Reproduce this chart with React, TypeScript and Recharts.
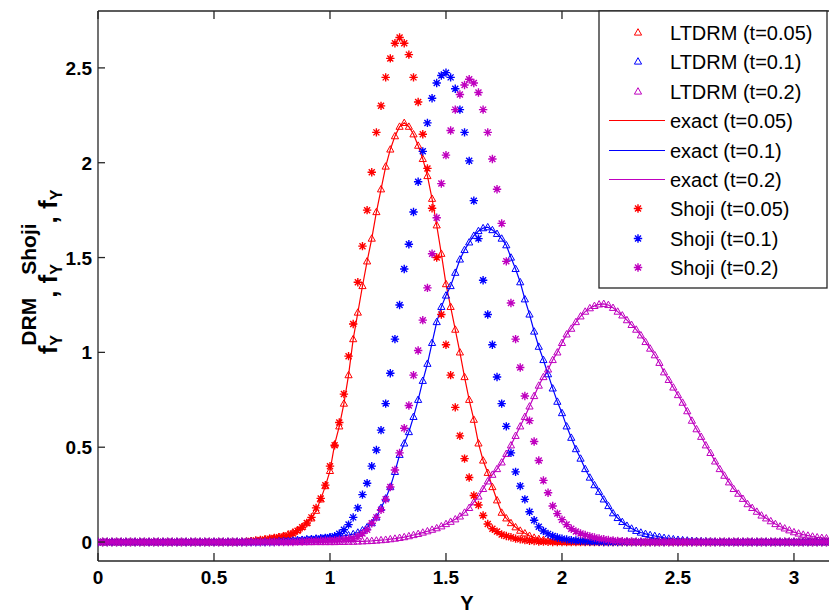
import React from "react";
import { ComposedChart, Line, Scatter, XAxis, YAxis, ReferenceLine } from "recharts";

const FONT = '"Liberation Sans", Arial, Helvetica, sans-serif';
const AXIS = "#262626";
const RED = "#ff0000";
const BLUE = "#0000ff";
const MAGENTA = "#bf00bf";
const XMAX = 3.151;
const YMIN = -0.1;
const YMAX = 2.8;

// Y values (step 0.02) shared by every series
const grid = [
  0, 0.02, 0.04, 0.06, 0.08, 0.1, 0.12, 0.14, 0.16, 0.18,
  0.2, 0.22, 0.24, 0.26, 0.28, 0.3, 0.32, 0.34, 0.36, 0.38,
  0.4, 0.42, 0.44, 0.46, 0.48, 0.5, 0.52, 0.54, 0.56, 0.58,
  0.6, 0.62, 0.64, 0.66, 0.68, 0.7, 0.72, 0.74, 0.76, 0.78,
  0.8, 0.82, 0.84, 0.86, 0.88, 0.9, 0.92, 0.94, 0.96, 0.98,
  1, 1.02, 1.04, 1.06, 1.08, 1.1, 1.12, 1.14, 1.16, 1.18,
  1.2, 1.22, 1.24, 1.26, 1.28, 1.3, 1.32, 1.34, 1.36, 1.38,
  1.4, 1.42, 1.44, 1.46, 1.48, 1.5, 1.52, 1.54, 1.56, 1.58,
  1.6, 1.62, 1.64, 1.66, 1.68, 1.7, 1.72, 1.74, 1.76, 1.78,
  1.8, 1.82, 1.84, 1.86, 1.88, 1.9, 1.92, 1.94, 1.96, 1.98,
  2, 2.02, 2.04, 2.06, 2.08, 2.1, 2.12, 2.14, 2.16, 2.18,
  2.2, 2.22, 2.24, 2.26, 2.28, 2.3, 2.32, 2.34, 2.36, 2.38,
  2.4, 2.42, 2.44, 2.46, 2.48, 2.5, 2.52, 2.54, 2.56, 2.58,
  2.6, 2.62, 2.64, 2.66, 2.68, 2.7, 2.72, 2.74, 2.76, 2.78,
  2.8, 2.82, 2.84, 2.86, 2.88, 2.9, 2.92, 2.94, 2.96, 2.98,
  3, 3.02, 3.04, 3.06, 3.08, 3.1, 3.12, 3.14, 3.16,
];

// exact density (LTDRM markers sit on it)
const exact005 = [
  0, 0, 0, 0, 0, 0, 0, 0, 0, 0,
  0, 0, 0, 0, 0, 0, 0, 0, 0, 0,
  0, 0, 0, 0, 0, 0, 0, 0, 0, 0,
  0, 0.002, 0.003, 0.005, 0.007, 0.01, 0.014, 0.018, 0.022, 0.027,
  0.033, 0.041, 0.051, 0.064, 0.08, 0.1, 0.125, 0.165, 0.225, 0.295,
  0.375, 0.515, 0.61, 0.73, 0.88, 1.07, 1.21, 1.35, 1.48, 1.6,
  1.74, 1.86, 1.98, 2.07, 2.14, 2.19, 2.21, 2.19, 2.15, 2.09,
  2.02, 1.93, 1.81, 1.67, 1.52, 1.36, 1.24, 1.12, 1.0, 0.87,
  0.75, 0.645, 0.52, 0.43, 0.365, 0.29, 0.22, 0.155, 0.125, 0.1,
  0.078, 0.06, 0.046, 0.033, 0.023, 0.016, 0.011, 0.007, 0.004, 0.002,
  0.001, 0, 0, 0, 0, 0, 0, 0, 0, 0,
  0, 0, 0, 0, 0, 0, 0, 0, 0, 0,
  0, 0, 0, 0, 0, 0, 0, 0, 0, 0,
  0, 0, 0, 0, 0, 0, 0, 0, 0, 0,
  0, 0, 0, 0, 0, 0, 0, 0, 0, 0,
  0, 0, 0, 0, 0, 0, 0, 0, 0,
];

const exact01 = [
  0, 0, 0, 0, 0, 0, 0, 0, 0, 0,
  0, 0, 0, 0, 0, 0, 0, 0, 0, 0,
  0, 0, 0, 0, 0, 0, 0, 0, 0, 0,
  0, 0, 0, 0, 0, 0, 0.002, 0.003, 0.004, 0.005,
  0.006, 0.007, 0.009, 0.01, 0.012, 0.014, 0.016, 0.018, 0.02, 0.022,
  0.024, 0.026, 0.029, 0.033, 0.036, 0.042, 0.05, 0.062, 0.078, 0.1,
  0.13, 0.18, 0.23, 0.29, 0.37, 0.46, 0.52, 0.58, 0.66, 0.75,
  0.85, 0.94, 1.05, 1.16, 1.24, 1.3, 1.35, 1.42, 1.49, 1.54,
  1.58, 1.615, 1.64, 1.655, 1.66, 1.645, 1.625, 1.6, 1.565, 1.5,
  1.44, 1.37, 1.28, 1.2, 1.11, 1.03, 0.96, 0.885, 0.81, 0.74,
  0.68, 0.61, 0.55, 0.49, 0.44, 0.385, 0.34, 0.3, 0.265, 0.225,
  0.19, 0.152, 0.127, 0.106, 0.086, 0.071, 0.059, 0.05, 0.043, 0.037,
  0.032, 0.027, 0.022, 0.018, 0.015, 0.012, 0.01, 0.008, 0.006, 0.005,
  0.004, 0.003, 0.002, 0.001, 0, 0, 0, 0, 0, 0,
  0, 0, 0, 0, 0, 0, 0, 0, 0, 0,
  0, 0, 0, 0, 0, 0, 0, 0, 0,
];

const exact02 = [
  0, 0, 0, 0, 0, 0, 0, 0, 0, 0,
  0, 0, 0, 0, 0, 0, 0, 0, 0, 0,
  0, 0, 0, 0, 0, 0, 0, 0, 0, 0,
  0, 0, 0, 0, 0, 0, 0, 0, 0, 0,
  0, 0, 0, 0, 0, 0, 0, 0, 0, 0,
  0, 0, 0.001, 0.001, 0.002, 0.002, 0.003, 0.004, 0.005, 0.006,
  0.008, 0.01, 0.012, 0.015, 0.018, 0.022, 0.026, 0.031, 0.037, 0.043,
  0.05, 0.057, 0.065, 0.073, 0.083, 0.095, 0.107, 0.12, 0.135, 0.155,
  0.18, 0.21, 0.24, 0.28, 0.32, 0.355, 0.385, 0.42, 0.465, 0.51,
  0.56, 0.61, 0.66, 0.715, 0.77, 0.825, 0.87, 0.91, 0.96, 1.0,
  1.05, 1.095, 1.125, 1.16, 1.19, 1.215, 1.233, 1.245, 1.253, 1.256,
  1.25, 1.235, 1.215, 1.195, 1.17, 1.145, 1.12, 1.09, 1.055, 1.02,
  0.985, 0.945, 0.895, 0.855, 0.815, 0.775, 0.735, 0.69, 0.64, 0.595,
  0.555, 0.51, 0.47, 0.425, 0.385, 0.35, 0.315, 0.28, 0.255, 0.228,
  0.2, 0.18, 0.16, 0.14, 0.125, 0.11, 0.095, 0.082, 0.072, 0.062,
  0.052, 0.045, 0.039, 0.034, 0.029, 0.025, 0.022, 0.02, 0.018,
];

// Shoji approximation
const shoji005 = [
  0, 0, 0, 0, 0, 0, 0, 0, 0, 0,
  0, 0, 0, 0, 0, 0, 0, 0, 0, 0,
  0, 0, 0, 0, 0, 0, 0, 0, 0, 0,
  0, 0, 0, 0.005, 0.008, 0.011, 0.014, 0.018, 0.021, 0.025,
  0.029, 0.035, 0.045, 0.06, 0.078, 0.1, 0.13, 0.18, 0.23, 0.3,
  0.4, 0.51, 0.63, 0.78, 0.98, 1.15, 1.37, 1.56, 1.75, 1.95,
  2.16, 2.3, 2.45, 2.55, 2.63, 2.66, 2.63, 2.57, 2.45, 2.32,
  2.15, 1.97, 1.76, 1.5, 1.2, 1.04, 0.88, 0.71, 0.56, 0.44,
  0.34, 0.245, 0.195, 0.14, 0.095, 0.07, 0.055, 0.04, 0.032, 0.025,
  0.018, 0.014, 0.01, 0.007, 0.005, 0.003, 0.002, 0.001, 0, 0,
  0, 0, 0, 0, 0, 0, 0, 0, 0, 0,
  0, 0, 0, 0, 0, 0, 0, 0, 0, 0,
  0, 0, 0, 0, 0, 0, 0, 0, 0, 0,
  0, 0, 0, 0, 0, 0, 0, 0, 0, 0,
  0, 0, 0, 0, 0, 0, 0, 0, 0, 0,
  0, 0, 0, 0, 0, 0, 0, 0, 0,
];

const shoji01 = [
  0, 0, 0, 0, 0, 0, 0, 0, 0, 0,
  0, 0, 0, 0, 0, 0, 0, 0, 0, 0,
  0, 0, 0, 0, 0, 0, 0, 0, 0, 0,
  0, 0, 0, 0, 0, 0, 0, 0, 0, 0.003,
  0.004, 0.005, 0.006, 0.008, 0.01, 0.012, 0.014, 0.016, 0.019, 0.022,
  0.025, 0.031, 0.044, 0.065, 0.092, 0.13, 0.18, 0.25, 0.31, 0.4,
  0.485, 0.59, 0.73, 0.89, 1.07, 1.25, 1.44, 1.57, 1.74, 1.9,
  2.06, 2.21, 2.34, 2.42, 2.46, 2.475, 2.45, 2.39, 2.28, 2.16,
  2.01, 1.8, 1.6, 1.38, 1.2, 1.04, 0.87, 0.73, 0.61, 0.47,
  0.37, 0.295, 0.225, 0.16, 0.115, 0.08, 0.058, 0.043, 0.032, 0.024,
  0.018, 0.014, 0.01, 0.008, 0.006, 0.004, 0.003, 0.002, 0.001, 0,
  0, 0, 0, 0, 0, 0, 0, 0, 0, 0,
  0, 0, 0, 0, 0, 0, 0, 0, 0, 0,
  0, 0, 0, 0, 0, 0, 0, 0, 0, 0,
  0, 0, 0, 0, 0, 0, 0, 0, 0, 0,
  0, 0, 0, 0, 0, 0, 0, 0, 0,
];

const shoji02 = [
  0, 0, 0, 0, 0, 0, 0, 0, 0, 0,
  0, 0, 0, 0, 0, 0, 0, 0, 0, 0,
  0, 0, 0, 0, 0, 0, 0, 0, 0, 0,
  0, 0, 0, 0, 0, 0, 0, 0, 0, 0,
  0, 0, 0, 0.002, 0.003, 0.004, 0.005, 0.006, 0.007, 0.008,
  0.009, 0.01, 0.012, 0.014, 0.016, 0.019, 0.03, 0.045, 0.065, 0.099,
  0.13, 0.17, 0.225, 0.29, 0.38, 0.47, 0.6, 0.72, 0.88, 1.01,
  1.17, 1.34, 1.52, 1.71, 1.89, 2.04, 2.17, 2.28, 2.36, 2.41,
  2.44, 2.42, 2.37, 2.28, 2.16, 2.02, 1.86, 1.68, 1.48, 1.26,
  1.07, 0.92, 0.77, 0.64, 0.53, 0.43, 0.325, 0.26, 0.19, 0.15,
  0.118, 0.092, 0.07, 0.056, 0.045, 0.037, 0.03, 0.024, 0.019, 0.015,
  0.011, 0.008, 0.006, 0.004, 0.003, 0.002, 0.001, 0, 0, 0,
  0, 0, 0, 0, 0, 0, 0, 0, 0, 0,
  0, 0, 0, 0, 0, 0, 0, 0, 0, 0,
  0, 0, 0, 0, 0, 0, 0, 0, 0, 0,
  0, 0, 0, 0, 0, 0, 0, 0, 0,
];

const xTicks = [0, 0.5, 1, 1.5, 2, 2.5, 3];
const yTicks = [0, 0.5, 1, 1.5, 2, 2.5];

const legendItems = [
  { label: "LTDRM (t=0.05)", color: RED, kind: "tri" },
  { label: "LTDRM (t=0.1)", color: BLUE, kind: "tri" },
  { label: "LTDRM (t=0.2)", color: MAGENTA, kind: "tri" },
  { label: "exact (t=0.05)", color: RED, kind: "line" },
  { label: "exact (t=0.1)", color: BLUE, kind: "line" },
  { label: "exact (t=0.2)", color: MAGENTA, kind: "line" },
  { label: "Shoji (t=0.05)", color: RED, kind: "star" },
  { label: "Shoji (t=0.1)", color: BLUE, kind: "star" },
  { label: "Shoji (t=0.2)", color: MAGENTA, kind: "star" },
];

const rows = grid.map((x, i) => ({
  x,
  e005: exact005[i],
  e01: exact01[i],
  e02: exact02[i],
  s005: shoji005[i],
  s01: shoji01[i],
  s02: shoji02[i],
}));

const triPath = (cx: number, cy: number) =>
  `M${cx},${cy - 3.8}L${cx + 3.6},${cy + 2.6}L${cx - 3.6},${cy + 2.6}Z`;

const starPath = (cx: number, cy: number) => {
  const s = 4.2;
  const d = 3;
  return (
    `M${cx - s},${cy}H${cx + s}M${cx},${cy - s}V${cy + s}` +
    `M${cx - d},${cy - d}L${cx + d},${cy + d}M${cx - d},${cy + d}L${cx + d},${cy - d}`
  );
};

const triangle = (color: string) => (p: any) =>
  p.cx == null ? <g /> : <path d={triPath(p.cx, p.cy)} fill="none" stroke={color} strokeWidth={1} />;

const star = (color: string) => (p: any) =>
  p.cx == null ? <g /> : <path d={starPath(p.cx, p.cy)} fill="none" stroke={color} strokeWidth={1.4} />;

const XTick = (p: any) => (
  <g>
    <line x1={p.x} y1={p.y} x2={p.x} y2={p.y - 8} stroke={AXIS} strokeWidth={1.3} />
    <text x={p.x} y={p.y + 23} textAnchor="middle" fontFamily={FONT} fontWeight="bold" fontSize={19} fill="#000">
      {String(p.payload.value)}
    </text>
  </g>
);

const YTick = (p: any) => (
  <g>
    <line x1={p.x} y1={p.y} x2={p.x + 7} y2={p.y} stroke={AXIS} strokeWidth={1.3} />
    <text x={p.x - 6} y={p.y + 7} textAnchor="end" fontFamily={FONT} fontWeight="bold" fontSize={19} fill="#000">
      {String(p.payload.value)}
    </text>
  </g>
);

const Overlay = () => {
  const rowY = (i: number) => Math.round(31.7 + 29.45 * i) + 0.5;
  return (
    <svg width={829} height={613} style={{ position: "absolute", left: 0, top: 0, pointerEvents: "none" }}>
      <rect x={599} y={11} width={228} height={277} fill="#fff" stroke={AXIS} strokeWidth={1.3} />
      {legendItems.map((it, i) => {
        const y = rowY(i);
        return (
          <g key={it.label}>
            {it.kind === "tri" && <path d={triPath(638, y)} fill="none" stroke={it.color} strokeWidth={1} />}
            {it.kind === "star" && <path d={starPath(638, y)} fill="none" stroke={it.color} strokeWidth={1.4} />}
            {it.kind === "line" && <line x1={609} y1={y} x2={665} y2={y} stroke={it.color} strokeWidth={1.2} />}
            <text x={670} y={y + 7} fontFamily={FONT} fontSize={20} fill="#000">
              {it.label}
            </text>
          </g>
        );
      })}
      <text x={467} y={610} textAnchor="middle" fontFamily={FONT} fontWeight="bold" fontSize={20} fill="#000">
        Y
      </text>
      <text
        transform="translate(57,272) rotate(-90)"
        textAnchor="middle"
        fontFamily={FONT}
        fontWeight="bold"
        fontSize={26}
        fill="#000"
      >
        f
        <tspan fontSize={16} dy={5}>Y</tspan>
        <tspan fontSize={21} dx={-10.7} dy={-26}>DRM</tspan>
        <tspan fontSize={26} dy={21}>, f</tspan>
        <tspan fontSize={16} dy={5}>Y</tspan>
        <tspan fontSize={21} dx={-10.7} dy={-26}>Shoji</tspan>
        <tspan fontSize={26} dy={21}>, f</tspan>
        <tspan fontSize={16} dy={5}>Y</tspan>
      </text>
    </svg>
  );
};

export default function App() {
  return (
    <div style={{ position: "absolute", left: 0, top: 0, width: 829, height: 613, background: "#fff" }}>
      <ComposedChart width={829} height={613} data={rows} margin={{ top: 11, right: 0, bottom: 51, left: 97 }}>
        <XAxis
          dataKey="x"
          type="number"
          domain={[0, XMAX]}
          ticks={xTicks}
          allowDataOverflow
          height={1}
          tickSize={0}
          tickMargin={0}
          interval={0}
          tickLine={false}
          tick={XTick}
          axisLine={{ stroke: AXIS, strokeWidth: 1.3 }}
        />
        <YAxis
          type="number"
          domain={[YMIN, YMAX]}
          ticks={yTicks}
          allowDataOverflow
          width={1}
          tickSize={0}
          tickMargin={0}
          interval={0}
          tickLine={false}
          tick={YTick}
          axisLine={{ stroke: AXIS, strokeWidth: 1.3 }}
        />
        {/* top border of the box with inward ticks */}
        <ReferenceLine y={YMAX} stroke={AXIS} strokeWidth={1.3} ifOverflow="visible" />
        {xTicks.map((t) => (
          <ReferenceLine
            key={t}
            segment={[{ x: t, y: YMAX }, { x: t, y: YMAX - 0.042 }]}
            stroke={AXIS}
            strokeWidth={1.3}
            ifOverflow="visible"
          />
        ))}
        <Scatter data={rows} dataKey="e005" shape={triangle(RED)} isAnimationActive={false} />
        <Scatter data={rows} dataKey="e01" shape={triangle(BLUE)} isAnimationActive={false} />
        <Scatter data={rows} dataKey="e02" shape={triangle(MAGENTA)} isAnimationActive={false} />
        <Line dataKey="e005" type="linear" stroke={RED} strokeWidth={1.2} dot={false} activeDot={false} isAnimationActive={false} />
        <Line dataKey="e01" type="linear" stroke={BLUE} strokeWidth={1.2} dot={false} activeDot={false} isAnimationActive={false} />
        <Line dataKey="e02" type="linear" stroke={MAGENTA} strokeWidth={1.2} dot={false} activeDot={false} isAnimationActive={false} />
        <Scatter data={rows} dataKey="s005" shape={star(RED)} isAnimationActive={false} />
        <Scatter data={rows} dataKey="s01" shape={star(BLUE)} isAnimationActive={false} />
        <Scatter data={rows} dataKey="s02" shape={star(MAGENTA)} isAnimationActive={false} />
      </ComposedChart>
      <Overlay />
    </div>
  );
}
